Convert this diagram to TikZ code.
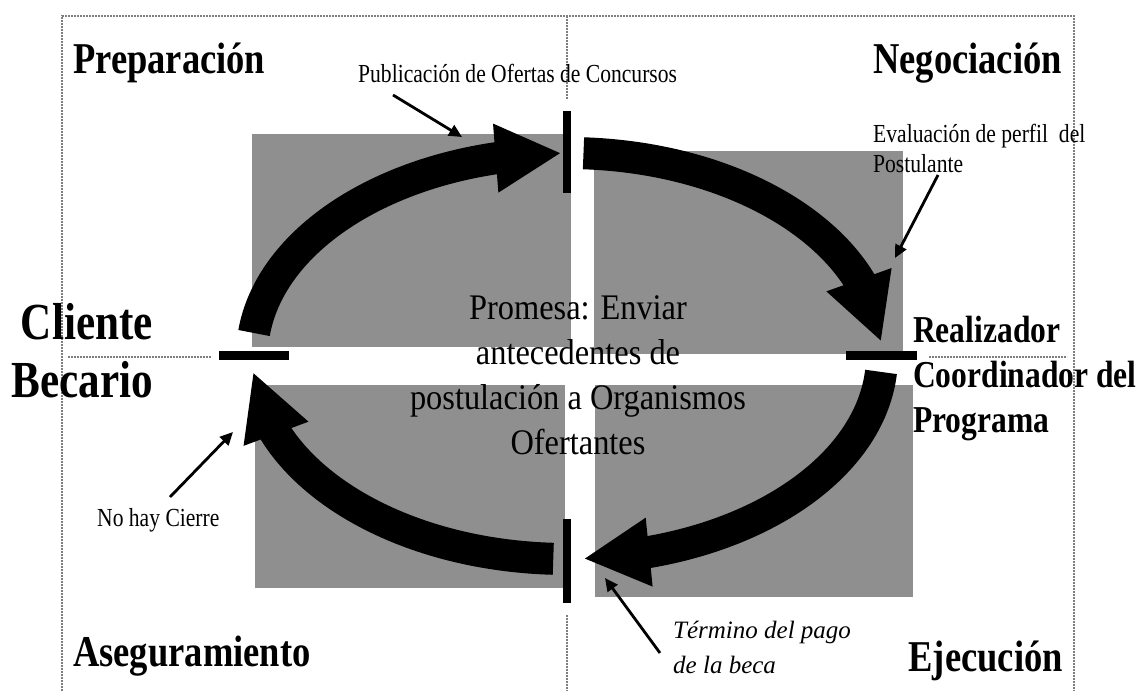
\documentclass[tikz,border=0pt]{standalone}
\usepackage{fontspec}
\setmainfont{Liberation Serif}
\newfontfamily\headfont{Liberation Serif}[FakeStretch=0.83]
\newfontfamily\promisefont{Liberation Serif}[FakeStretch=0.9]
\usepackage{xcolor}
\usepackage{tikz}
\usetikzlibrary{arrows.meta,bending}
\definecolor{quadgray}{HTML}{8F8F8F}
\definecolor{dotgray}{HTML}{7E7E7E}

\begin{document}
\begin{tikzpicture}[x=1pt,y=1pt]
      \tikzstyle{every quad}=[fill=quadgray,draw=none]
      \tikzstyle{every bar}=[fill=black,inner sep=0pt]
      \tikzstyle{every stage}=[font=\headfont\bfseries\fontsize{44}{45}\selectfont,inner sep=0pt]
      \tikzstyle{every party}=[font=\headfont\bfseries\fontsize{38}{45}\selectfont,inner sep=0pt]
      \tikzstyle{every note}=[font=\headfont\fontsize{26}{30}\selectfont,inner sep=0pt,align=left]
      \tikzstyle{dotted frame}=[draw=dotgray,line width=2.8pt,dash pattern=on 2pt off 1pt]
      \tikzstyle{big arrow}=[line width=32pt,-{Triangle[length=66pt,width=64pt,flex]}]
      \tikzstyle{pointer}=[line width=2.8pt,-{Triangle[length=13pt,width=12pt]}]

      \useasboundingbox (0,0) rectangle (1144,691);

      % Frame and dividing lines
      \draw[dotted frame] (62,0) -- (62,675) -- (1074,675) -- (1074,0);
      \draw[dotted frame] (567,675) -- (567,592);
      \draw[dotted frame] (567,76) -- (567,0);
      \draw[dotted frame] (68,334) -- (211,334);
      \draw[dotted frame] (929,334) -- (1067,334);

      % Gray quadrants
      \foreach \xa/\ya/\xb/\yb in {252/557/571/344, 594/540/903/337, 255/306/565/103, 595/306/913/94}
        \fill[every quad] (\xa,\ya) rectangle (\xb,\yb);

      % Promise in the middle
      \node[font=\promisefont\fontsize{36}{45}\selectfont, align=center, inner sep=0pt, anchor=base] (promesa) at (578,236)
        {Promesa: Enviar\\antecedentes de\\postulación a Organismos\\Ofertantes};

      % Stages
      \node[every stage, anchor=base west] (prep) at (73,617) {Preparación};
      \node[every stage, anchor=base east] (nego) at (1062,617) {Negociación};
      \node[every stage, anchor=base west] (aseg) at (73,24) {Aseguramiento};
      \node[every stage, anchor=base east] (ejec) at (1063,19) {Ejecución};

      % Parties
      \node[every party, font=\headfont\bfseries\fontsize{52}{58}\selectfont, align=right, anchor=base east] (cliente) at (153,293) {Cliente\\Becario};
      \node[every party, align=left, anchor=base west] (realizador) at (913,258) {Realizador\\Coordinador del\\Programa};

      % Notes
      \node[every note, anchor=base west] (pub) at (358,608) {Publicación de Ofertas de Concursos};
      \node[every note, anchor=base west] (eval) at (873,518) {Evaluación de perfil\ \ del\\Postulante};
      \node[every note, anchor=base west] (cierre) at (97,164) {No hay Cierre};
      \node[every note, font=\itshape\fontsize{25}{35}\selectfont, anchor=base west] (termino) at (673,17) {Término del pago\\de la beca};

      % Loop of big arrows
      \coordinate (centre) at (567,335);
      \foreach \s/\e [count=\i] in {173.5/91, 87/4, -4.5/-87, -92.5/-175.5} {
        \path (centre) ++(\s:315 and 203) coordinate (arc-\i);
        \draw[big arrow] (arc-\i) arc[start angle=\s, end angle=\e, x radius=315, y radius=203];
      }

      % Bars between phases
      \node[every bar, minimum width=8pt, minimum height=82pt] (bar-top) at (567,539) {};
      \node[every bar, minimum width=70pt, minimum height=9pt] (bar-left) at (254,335) {};
      \node[every bar, minimum width=71pt, minimum height=9pt] (bar-right) at (881.5,335) {};
      \node[every bar, minimum width=8pt, minimum height=84pt] (bar-bottom) at (567,130) {};

      % Pointers from the notes
      \coordinate (pub-tail) at (393,596);
      \coordinate (pub-head) at (462,554);
      \coordinate (eval-tail) at (938,516);
      \coordinate (eval-head) at (895,433);
      \coordinate (cierre-tail) at (170,194);
      \coordinate (cierre-head) at (233,259);
      \coordinate (termino-tail) at (660,38);
      \coordinate (termino-head) at (605,113);
      \foreach \n in {pub,eval,cierre,termino}
        \draw[pointer] (\n-tail) -- (\n-head);
\end{tikzpicture}
\end{document}
